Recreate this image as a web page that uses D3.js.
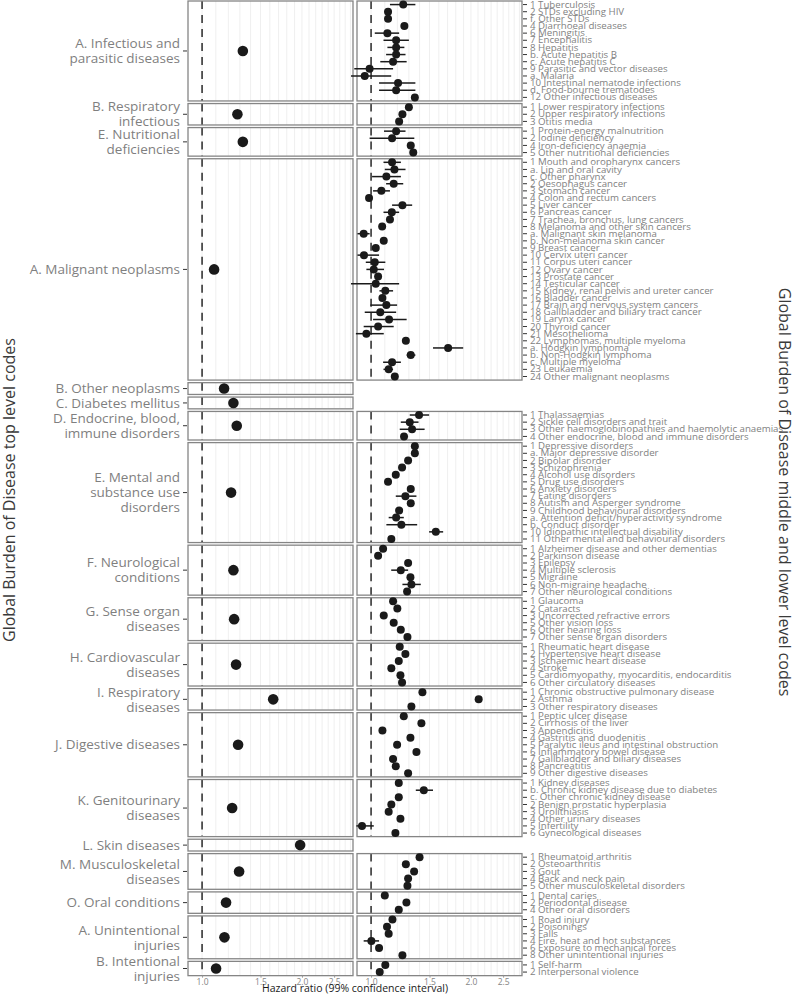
<!DOCTYPE html>
<html>
<head>
<meta charset="utf-8">
<script src="https://cdn.jsdelivr.net/npm/d3@7"></script>
<style>
  body { margin: 0; background: #fff; }
  svg { display: block; font-family: "Open Sans", sans-serif; }
</style>
</head>
<body>
<svg></svg>
<script>
let width = 799
let height = 994

// top level codes (wrapped as in the picture)
let topLabels = [
  ["A. Infectious and", "parasitic diseases"],
  ["B. Respiratory", "infectious"],
  ["E. Nutritional", "deficiencies"],
  ["A. Malignant neoplasms"],
  ["B. Other neoplasms"],
  ["C. Diabetes mellitus"],
  ["D. Endocrine, blood,", "immune disorders"],
  ["E. Mental and", "substance use", "disorders"],
  ["F. Neurological", "conditions"],
  ["G. Sense organ", "diseases"],
  ["H. Cardiovascular", "diseases"],
  ["I. Respiratory", "diseases"],
  ["J. Digestive diseases"],
  ["K. Genitourinary", "diseases"],
  ["L. Skin diseases"],
  ["M. Musculoskeletal", "diseases"],
  ["O. Oral conditions"],
  ["A. Unintentional", "injuries"],
  ["B. Intentional", "injuries"]
]
let topHR = [1.327, 1.278, 1.327, 1.087, 1.165, 1.243, 1.272, 1.223, 1.243, 1.249, 1.266, 1.638, 1.284, 1.232, 1.975, 1.293, 1.181, 1.168, 1.102]
let topLow = [1.32, 1.27, 1.32, 1.08, 1.15, 1.23, 1.26, 1.21, 1.23, 1.24, 1.26, 1.62, 1.27, 1.22, 1.94, 1.28, 1.17, 1.16, 1.09]
let topHigh = [1.335, 1.285, 1.335, 1.095, 1.18, 1.255, 1.285, 1.235, 1.255, 1.26, 1.275, 1.655, 1.295, 1.245, 2.01, 1.305, 1.195, 1.18, 1.115]

// middle and lower level codes, one list per top level code
let subLabels = [
  ["1 Tuberculosis", "2 STDs excluding HIV", "f. Other STDs", "4 Diarrhoeal diseases", "6 Meningitis", "7 Encephalitis", "8 Hepatitis", "b. Acute hepatitis B", "c. Acute hepatitis C", "9 Parasitic and vector diseases", "a. Malaria", "10 Intestinal nematode infections", "d. Food-bourne trematodes", "12 Other infectious diseases"],
  ["1 Lower respiratory infections", "2 Upper respiratory infections", "3 Otitis media"],
  ["1 Protein-energy malnutrition", "2 Iodine deficiency", "4 Iron-deficiency anaemia", "5 Other nutritional deficiencies"],
  ["1 Mouth and oropharynx cancers", "a. Lip and oral cavity", "c. Other pharynx", "2 Oesophagus cancer", "3 Stomach cancer", "4 Colon and rectum cancers", "5 Liver cancer", "6 Pancreas cancer", "7 Trachea, bronchus, lung cancers", "8 Melanoma and other skin cancers", "a. Malignant skin melanoma", "b. Non-melanoma skin cancer", "9 Breast cancer", "10 Cervix uteri cancer", "11 Corpus uteri cancer", "12 Ovary cancer", "13 Prostate cancer", "14 Testicular cancer", "15 Kidney, renal pelvis and ureter cancer", "16 Bladder cancer", "17 Brain and nervous system cancers", "18 Gallbladder and biliary tract cancer", "19 Larynx cancer", "20 Thyroid cancer", "21 Mesothelioma", "22 Lymphomas, multiple myeloma", "a. Hodgkin lymphoma", "b. Non-Hodgkin lymphoma", "c. Multiple myeloma", "23 Leukaemia", "24 Other malignant neoplasms"],
  [],
  [],
  ["1 Thalassaemias", "2 Sickle cell disorders and trait", "3 Other haemoglobinopathies and haemolytic anaemias", "4 Other endocrine, blood and immune disorders"],
  ["1 Depressive disorders", "a. Major depressive disorder", "2 Bipolar disorder", "3 Schizophrenia", "4 Alcohol use disorders", "5 Drug use disorders", "6 Anxiety disorders", "7 Eating disorders", "8 Autism and Asperger syndrome", "9 Childhood behavioural disorders", "a. Attention deficit/hyperactivity syndrome", "b. Conduct disorder", "10 Idiopathic intellectual disability", "11 Other mental and behavioural disorders"],
  ["1 Alzheimer disease and other dementias", "2 Parkinson disease", "3 Epilepsy", "4 Multiple sclerosis", "5 Migraine", "6 Non-migraine headache", "7 Other neurological conditions"],
  ["1 Glaucoma", "2 Cataracts", "3 Uncorrected refractive errors", "5 Other vision loss", "6 Other hearing loss", "7 Other sense organ disorders"],
  ["1 Rheumatic heart disease", "2 Hypertensive heart disease", "3 Ischaemic heart disease", "4 Stroke", "5 Cardiomyopathy, myocarditis, endocarditis", "6 Other circulatory diseases"],
  ["1 Chronic obstructive pulmonary disease", "2 Asthma", "3 Other respiratory diseases"],
  ["1 Peptic ulcer disease", "2 Cirrhosis of the liver", "3 Appendicitis", "4 Gastritis and duodenitis", "5 Paralytic ileus and intestinal obstruction", "6 Inflammatory bowel disease", "7 Gallbladder and biliary diseases", "8 Pancreatitis", "9 Other digestive diseases"],
  ["1 Kidney diseases", "b. Chronic kidney disease due to diabetes", "c. Other chronic kidney disease", "2 Benign prostatic hyperplasia", "3 Urolithiasis", "4 Other urinary diseases", "5 Infertility", "6 Gynecological diseases"],
  [],
  ["1 Rheumatoid arthritis", "2 Osteoarthritis", "3 Gout", "4 Back and neck pain", "5 Other musculoskeletal disorders"],
  ["1 Dental caries", "2 Periodontal disease", "4 Other oral disorders"],
  ["1 Road injury", "2 Poisonings", "3 Falls", "4 Fire, heat and hot substances", "6 Exposure to mechanical forces", "8 Other unintentional injuries"],
  ["1 Self-harm", "2 Interpersonal violence"]
]

let subHR = [
  [1.25, 1.125, 1.125, 1.26, 1.12, 1.19, 1.19, 1.19, 1.165, 0.99, 0.957, 1.206, 1.19, 1.355],
  [1.30, 1.243, 1.215],
  [1.19, 1.157, 1.317, 1.34],
  [1.157, 1.176, 1.112, 1.17, 1.074, 0.986, 1.243, 1.155, 1.14, 1.08, 0.95, 1.092, 1.033, 0.952, 1.026, 1.019, 1.05, 1.033, 1.104, 1.082, 1.112, 1.066, 1.133, 1.05, 0.968, 1.273, 1.707, 1.317, 1.157, 1.13, 1.179],
  [],
  [],
  [1.395, 1.308, 1.329, 1.257],
  [1.355, 1.355, 1.293, 1.24, 1.187, 1.125, 1.317, 1.269, 1.317, 1.215, 1.19, 1.234, 1.567, 1.151],
  [1.087, 1.05, 1.293, 1.229, 1.314, 1.323, 1.284],
  [1.165, 1.2, 1.092, 1.17, 1.229, 1.287],
  [1.22, 1.269, 1.212, 1.151, 1.226, 1.24],
  [1.428, 2.11, 1.323],
  [1.255, 1.418, 1.082, 1.314, 1.198, 1.37, 1.165, 1.187, 1.293],
  [1.212, 1.442, 1.212, 1.151, 1.13, 1.226, 0.939, 1.184],
  [],
  [1.40, 1.273, 1.348, 1.293, 1.287],
  [1.10, 1.278, 1.212],
  [1.16, 1.117, 1.13, 1.002, 1.057, 1.243],
  [1.104, 1.062]
]

let subLow = [
  [1.14, 1.10, 1.10, 1.23, 1.026, 1.09, 1.12, 1.11, 1.066, 0.89, 0.87, 1.057, 1.057, 1.33],
  [1.28, 1.22, 1.19],
  [1.094, 0.99, 1.29, 1.31],
  [1.09, 1.10, 1.007, 1.11, 1.014, 0.97, 1.157, 1.09, 1.115, 1.06, 0.91, 1.07, 1.01, 0.91, 0.964, 0.968, 1.03, 0.87, 1.06, 1.06, 0.995, 0.957, 1.014, 0.95, 0.90, 1.25, 1.537, 1.28, 1.087, 1.09, 1.155],
  [],
  [],
  [1.308, 1.229, 1.22, 1.23],
  [1.33, 1.33, 1.27, 1.215, 1.165, 1.10, 1.29, 1.187, 1.29, 1.19, 1.13, 1.112, 1.496, 1.13],
  [1.065, 1.03, 1.27, 1.15, 1.29, 1.243, 1.26],
  [1.14, 1.175, 1.07, 1.145, 1.205, 1.26],
  [1.195, 1.245, 1.19, 1.13, 1.20, 1.215],
  [1.40, 2.07, 1.30],
  [1.23, 1.39, 1.06, 1.29, 1.175, 1.34, 1.14, 1.165, 1.27],
  [1.19, 1.364, 1.19, 1.13, 1.11, 1.20, 0.903, 1.16],
  [],
  [1.37, 1.25, 1.32, 1.27, 1.26],
  [1.08, 1.25, 1.19],
  [1.14, 1.10, 1.11, 0.95, 1.035, 1.22],
  [1.08, 1.045]
]

let subHigh = [
  [1.36, 1.15, 1.15, 1.29, 1.215, 1.30, 1.26, 1.27, 1.28, 1.165, 1.15, 1.36, 1.36, 1.38],
  [1.32, 1.27, 1.24],
  [1.27, 1.35, 1.34, 1.37],
  [1.23, 1.27, 1.23, 1.25, 1.14, 1.005, 1.33, 1.215, 1.165, 1.10, 0.99, 1.115, 1.055, 1.057, 1.104, 1.094, 1.07, 1.215, 1.165, 1.105, 1.198, 1.19, 1.28, 1.17, 1.092, 1.295, 1.895, 1.36, 1.23, 1.165, 1.205],
  [],
  [],
  [1.496, 1.39, 1.45, 1.28],
  [1.38, 1.38, 1.32, 1.265, 1.21, 1.15, 1.345, 1.37, 1.345, 1.24, 1.255, 1.377, 1.649, 1.175],
  [1.11, 1.07, 1.32, 1.293, 1.34, 1.412, 1.31],
  [1.19, 1.225, 1.115, 1.195, 1.255, 1.315],
  [1.245, 1.295, 1.235, 1.175, 1.25, 1.265],
  [1.455, 2.15, 1.35],
  [1.28, 1.445, 1.105, 1.34, 1.22, 1.40, 1.19, 1.21, 1.32],
  [1.235, 1.537, 1.235, 1.175, 1.15, 1.25, 1.019, 1.21],
  [],
  [1.43, 1.30, 1.375, 1.32, 1.315],
  [1.12, 1.31, 1.235],
  [1.18, 1.135, 1.15, 1.057, 1.08, 1.265],
  [1.125, 1.08]
]

let xTicks = [1.0, 1.5, 2.0, 2.5]
let gridValues = d3.range(10, 29).map(d => d / 10)

let unit = 7.14
let gap = 2.6
let emptyUnits = 1.65
let topY = 1

let leftRange = [188, 353]
let rightRange = [357, 522]

let xLeft = d3.scaleLog().domain([0.907, 2.85]).range(leftRange)
let xRight = d3.scaleLog().domain([0.907, 2.85]).range(rightRange)

let svg = d3.select('svg')
  .attr('width', width)
  .attr('height', height)

let panels = []
let buildPanels = () => {
  let y = topY
  topLabels.forEach((lab, i) => {
    let n = subLabels[i].length
    let h = (n > 0 ? n : emptyUnits) * unit
    panels.push({
      index: i,
      top: y,
      bottom: y + h,
      yScale: d3.scaleBand().domain(subLabels[i]).range([y, y + h]).padding(0)
    })
    y += h + gap
  })
}

let drawPanelFrame = (g, xScale, p) => {
  g.selectAll('line.grid')
    .data(gridValues)
    .enter()
    .append('line')
    .attr('class', 'grid')
    .attr('x1', d => xScale(d))
    .attr('x2', d => xScale(d))
    .attr('y1', p.top)
    .attr('y2', p.bottom)
    .attr('stroke', '#ebebeb')
    .attr('stroke-width', 0.8)

  g.append('line')
    .attr('x1', xScale(1))
    .attr('x2', xScale(1))
    .attr('y1', p.top)
    .attr('y2', p.bottom)
    .attr('stroke', '#1a1a1a')
    .attr('stroke-width', 1.4)
    .attr('stroke-dasharray', '8,6')

  g.append('rect')
    .attr('x', xScale.range()[0])
    .attr('y', p.top)
    .attr('width', xScale.range()[1] - xScale.range()[0])
    .attr('height', p.bottom - p.top)
    .attr('fill', 'none')
    .attr('stroke', '#858585')
    .attr('stroke-width', 1.3)
}

let drawLeft = () => {
  panels.forEach(p => {
    let g = svg.append('g')
    drawPanelFrame(g, xLeft, p)
    let cy = (p.top + p.bottom) / 2
    let i = p.index

    g.append('line')
      .attr('x1', xLeft(topLow[i]))
      .attr('x2', xLeft(topHigh[i]))
      .attr('y1', cy)
      .attr('y2', cy)
      .attr('stroke', '#1a1a1a')
      .attr('stroke-width', 1.5)

    g.append('circle')
      .attr('cx', xLeft(topHR[i]))
      .attr('cy', cy)
      .attr('r', 5.3)
      .attr('fill', '#1a1a1a')

    // tick
    g.append('line')
      .attr('x1', leftRange[0] - 5)
      .attr('x2', leftRange[0] - 1)
      .attr('y1', cy)
      .attr('y2', cy)
      .attr('stroke', '#333')
      .attr('stroke-width', 1)

    let lines = topLabels[i]
    let txt = g.append('text')
      .attr('x', 180)
      .attr('y', cy)
      .attr('text-anchor', 'end')
      .style('font-size', '13.5px')
      .style('fill', '#7f7f7f')
    lines.forEach((l, k) => {
      txt.append('tspan')
        .attr('x', 180)
        .attr('y', cy + (k - (lines.length - 1) / 2) * 15)
        .attr('dy', '0.35em')
        .text(l)
    })
  })
}

let drawRight = () => {
  panels.forEach(p => {
    let i = p.index
    if (subLabels[i].length === 0) return
    let g = svg.append('g')
    drawPanelFrame(g, xRight, p)

    let rows = subLabels[i].map((lab, k) => ({
      label: lab,
      hr: subHR[i][k],
      lo: subLow[i][k],
      hi: subHigh[i][k]
    }))
    let bw = p.yScale.bandwidth() / 2

    g.selectAll('line.ci')
      .data(rows)
      .enter()
      .append('line')
      .attr('class', 'ci')
      .attr('x1', d => xRight(d.lo))
      .attr('x2', d => xRight(d.hi))
      .attr('y1', d => p.yScale(d.label) + bw)
      .attr('y2', d => p.yScale(d.label) + bw)
      .attr('stroke', '#1a1a1a')
      .attr('stroke-width', 1.5)

    g.selectAll('circle')
      .data(rows)
      .enter()
      .append('circle')
      .attr('cx', d => xRight(d.hr))
      .attr('cy', d => p.yScale(d.label) + bw)
      .attr('r', 4)
      .attr('fill', '#1a1a1a')

    let axis = d3.axisRight(p.yScale).tickSize(4).tickPadding(3)
    let ag = g.append('g')
      .attr('transform', 'translate(' + (rightRange[1] + 1) + ',0)')
      .call(axis)
    ag.select('.domain').remove()
    ag.selectAll('.tick line').attr('stroke', '#333')
    ag.selectAll('.tick text')
      .style('font-family', '"Open Sans", sans-serif')
      .style('font-size', '9.7px')
      .style('fill', '#7f7f7f')
  })
}

let drawAxes = () => {
  let bottom = panels[panels.length - 1].bottom
  ;[xLeft, xRight].forEach(sc => {
    let ag = svg.append('g')
      .attr('transform', 'translate(0,' + bottom + ')')
      .call(d3.axisBottom(sc).tickValues(xTicks).tickFormat(d3.format('.1f')).tickSize(2).tickPadding(1.5))
    ag.select('.domain').remove()
    ag.selectAll('.tick line').attr('stroke', '#999')
    ag.selectAll('.tick text')
      .style('font-family', '"Open Sans", sans-serif')
      .style('font-size', '8.5px')
      .style('fill', '#858585')
  })

  svg.append('text')
    .attr('x', (leftRange[0] + rightRange[1]) / 2)
    .attr('y', 992)
    .attr('text-anchor', 'middle')
    .style('font-size', '10.5px')
    .style('fill', '#1a1a1a')
    .text('Hazard ratio (99% confidence interval)')

  svg.append('text')
    .attr('transform', 'translate(14.5,490) rotate(-90)')
    .attr('text-anchor', 'middle')
    .style('font-size', '16px')
    .style('fill', '#3a3a3a')
    .text('Global Burden of Disease top level codes')

  svg.append('text')
    .attr('transform', 'translate(779,492) rotate(90)')
    .attr('text-anchor', 'middle')
    .style('font-size', '16px')
    .style('fill', '#3a3a3a')
    .text('Global Burden of Disease middle and lower level codes')
}

buildPanels()
drawLeft()
drawRight()
drawAxes()
</script>
</body>
</html>
